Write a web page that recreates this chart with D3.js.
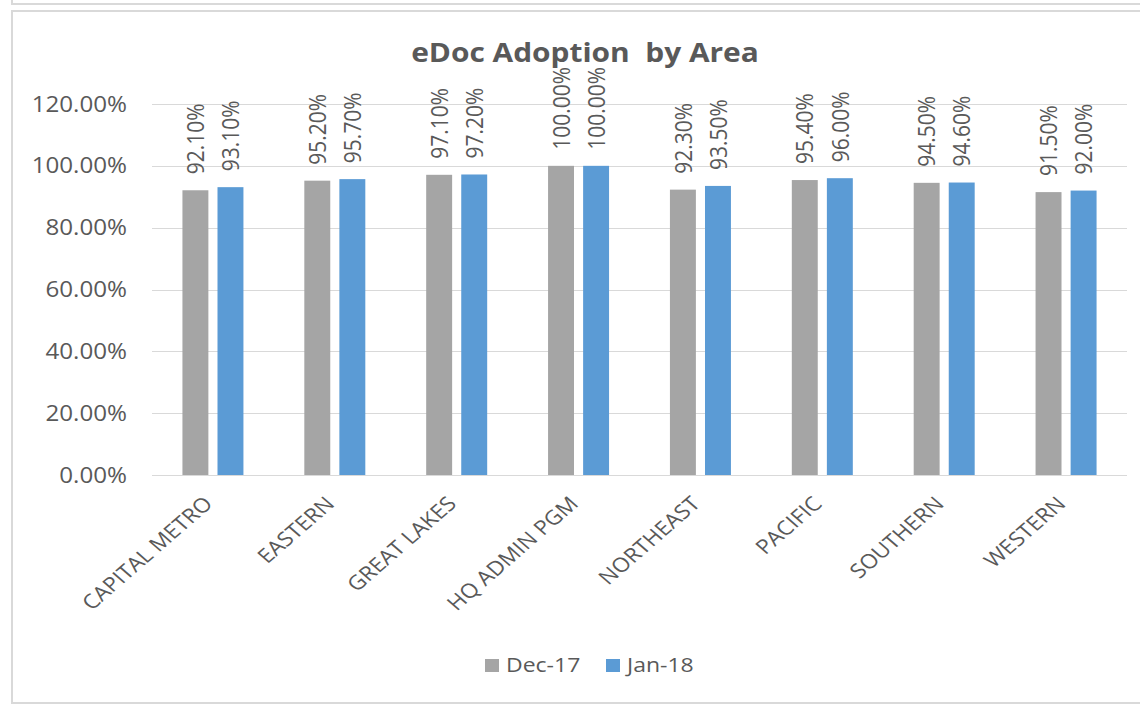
<!DOCTYPE html>
<html>
<head>
<meta charset="utf-8">
<script src="https://cdn.jsdelivr.net/npm/d3@7"></script>
<style>
body { margin: 0; background: #fff; }
text { font-family: "Open Sans", sans-serif; fill: #595959; white-space: pre; }
</style>
</head>
<body>
<svg id="chart" width="1140" height="706"></svg>
<script>
var areas = ['CAPITAL METRO', 'EASTERN', 'GREAT LAKES', 'HQ ADMIN PGM', 'NORTHEAST', 'PACIFIC', 'SOUTHERN', 'WESTERN']
var series = ['Dec-17', 'Jan-18']
var dec17 = [0.921, 0.952, 0.971, 1.0, 0.923, 0.954, 0.945, 0.915]
var jan18 = [0.931, 0.957, 0.972, 1.0, 0.935, 0.960, 0.946, 0.920]
var yTicks = [0, 0.2, 0.4, 0.6, 0.8, 1.0, 1.2]
var colors = ['#a5a5a5', '#5b9bd5']

// the reference looks stretched sideways, so text gets a small x scale
var sx = 1.15

var svg = d3.select('#chart')

// bottom edge of the box above
svg.append('rect').attr('x', 12).attr('y', -10).attr('width', 1140).attr('height', 14)
	.style('fill', 'none').style('stroke', '#d9d9d9').style('stroke-width', 2)
// chart border
svg.append('rect').attr('x', 12).attr('y', 11).attr('width', 1140).attr('height', 692)
	.style('fill', '#fff').style('stroke', '#d9d9d9').style('stroke-width', 2)

var x0 = d3.scaleBand().domain(areas).range([152, 1127])
var x1 = d3.scaleBand().domain(series).range([-30.5, 30.5]).paddingInner(0.26)
var y = d3.scaleLinear().domain([0, 1.2]).range([475, 104])

var rows = areas.map(function(a, i) {
	return {area: a, values: [dec17[i], jan18[i]]}
})

// gridlines
svg.append('g').selectAll('line').data(yTicks).enter().append('line')
	.attr('x1', 152).attr('x2', 1127)
	.attr('y1', function(d) { return Math.round(y(d)) + 0.5 })
	.attr('y2', function(d) { return Math.round(y(d)) + 0.5 })
	.style('stroke', '#d9d9d9').style('stroke-width', 1)

// y tick labels
svg.append('g').selectAll('text').data(yTicks).enter().append('text')
	.attr('transform', function(d) { return 'translate(127,' + y(d) + ') scale(' + sx + ',1)' })
	.attr('text-anchor', 'end').attr('dy', '0.36em')
	.style('font-size', '21px')
	.text(function(d) { return d3.format('.2%')(d) })

// bars
var group = svg.append('g').selectAll('g').data(rows).enter().append('g')
	.attr('transform', function(d) { return 'translate(' + (x0(d.area) + x0.bandwidth() / 2) + ',0)' })

group.selectAll('rect').data(function(d) {
	return d.values.map(function(v, j) { return {s: series[j], v: v, j: j} })
}).enter().append('rect')
	.attr('x', function(d) { return x1(d.s) })
	.attr('width', x1.bandwidth())
	.attr('y', function(d) { return y(d.v) })
	.attr('height', function(d) { return y(0) - y(d.v) })
	.style('fill', function(d) { return colors[d.j] })

// value labels
group.selectAll('text').data(function(d) {
	return d.values.map(function(v, j) { return {s: series[j], v: v} })
}).enter().append('text')
	.attr('transform', function(d) {
		return 'translate(' + (x1(d.s) + x1.bandwidth() / 2) + ',' + (y(d.v) - 16) + ') scale(' + sx + ',1) rotate(-90)'
	})
	.attr('dy', '0.36em')
	.style('font-size', '21px')
	.text(function(d) { return d3.format('.2%')(d.v) })

// category labels
svg.append('g').selectAll('text').data(areas).enter().append('text')
	.attr('transform', function(d) {
		return 'translate(' + (x0(d) + x0.bandwidth() / 2 + 1) + ',505) scale(' + sx + ',1) rotate(-45)'
	})
	.attr('text-anchor', 'end')
	.style('font-size', '20px')
	.text(function(d) { return d })

// title
svg.append('text')
	.attr('transform', 'translate(585,62) scale(' + sx + ',1)')
	.attr('text-anchor', 'middle')
	.style('font-size', '26px').style('font-weight', 'bold')
	.text('eDoc Adoption  by Area')

// legend
var legendX = [485, 606]
var legend = svg.append('g').selectAll('g').data(series).enter().append('g')
	.attr('transform', function(d, i) { return 'translate(' + legendX[i] + ',659)' })
legend.append('rect').attr('width', 14).attr('height', 13)
	.style('fill', function(d, i) { return colors[i] })
legend.append('text')
	.attr('transform', 'translate(21,13) scale(' + sx + ',1)')
	.style('font-size', '20px')
	.text(function(d) { return d })
</script>
</body>
</html>
